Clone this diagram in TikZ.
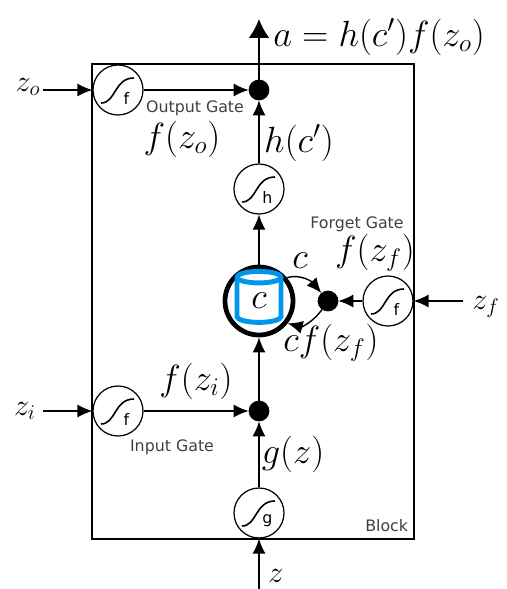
\documentclass[tikz,border=0pt]{standalone}
\usepackage{amsmath,amssymb}
\usepackage{fontspec}
\setsansfont{DejaVu Sans}
\usepackage{tikz}
\usetikzlibrary{shapes.geometric,arrows.meta,positioning,fit,backgrounds}
\definecolor{cellblue}{RGB}{0,150,235}

\begin{document}
\begin{tikzpicture}[
  on grid,
  font=\huge,
  gate/.style={draw, circle, inner sep=0pt, minimum size=1cm, fill=white, line width=0.7pt,
    path picture={\draw[line width=0.9pt, shift={(path picture bounding box.center)}]
      (-.34,-.26) .. controls (-.04,-.26) and (-.08,.24) .. (.32,.24);},
    label={[font=\sffamily\small, xshift=.17cm, yshift=-.16cm]center:#1}},
  dot/.style={draw, circle, fill=black, inner sep=0pt, minimum size=.4cm},
  gatename/.style={font=\sffamily\small, text=black!75},
  inputname/.style={font=\LARGE},
  flow/.style={draw, line width=0.8pt, -{Latex[length=.3cm,width=.26cm]}},
  >=Latex
]
\useasboundingbox (0,0) rectangle (10.12,-11.78);

% Main column
\node[circle, draw, line width=2.7pt, minimum size=1.36cm, inner sep=0pt] (memory) at (5.18,-6.02) {};
\node[draw=cellblue, cylinder, shape border rotate=90, aspect=0.75, line width=2.8pt,
      minimum width=.88cm, minimum height=1.02cm, inner sep=0pt] (cell) at (memory) {$c$};
\node[gate=h, above=2.24cm of memory] (hgate) {};
\node[dot, above=1.98cm of hgate] (outdot) {};
\node[dot, below=2.2cm of memory] (indot) {};
\node[gate=g, below=2.04cm of indot] (ggate) {};
\coordinate[above=1.42cm of outdot] (atip);
\coordinate[below=1.54cm of ggate] (zin);

% Gates
\node[gate=f, left=2.82cm of outdot] (fo) {};
\node[gate=f, left=2.82cm of indot] (fi) {};
\node[dot, right=1.38cm of memory] (fdot) {};
\node[gate=f, right=1.2cm of fdot] (ff) {};
\coordinate[left=1.5cm of fo] (zoin);
\coordinate[left=1.5cm of fi] (ziin);
\coordinate[right=1.5cm of ff] (zfin);

% Block
\begin{scope}[on background layer]
  \node[draw, line width=1.2pt, fit=(fo)(ff)(ggate), inner sep=0pt] (block) {};
\end{scope}

% Labels
\node[right=2.4cm of outdot, yshift=1.06cm] (alabel) {$a=h(c')f(z_o)$};
\node[inputname, left=1.8cm of fo, yshift=.06cm] (zolabel) {$z_o$};
\node[inputname, left=1.86cm of fi] (zilabel) {$z_i$};
\node[inputname, right=1.96cm of ff, yshift=-.12cm] (zflabel) {$z_f$};
\node[inputname, below=1.26cm of ggate, xshift=.34cm] (zlabel) {$z$};
\node[gatename, below=.36cm of fo, xshift=1.54cm] (outname) {Output Gate};
\node[below=.62cm of outname, xshift=-.26cm] (folabel) {$f(z_o)$};
\node[below=1.06cm of outdot, xshift=.8cm] (hlabel) {$h(c')$};
\node[gatename, above=1.54cm of fdot, xshift=.58cm] (forgetname) {Forget Gate};
\node[below=.58cm of forgetname, xshift=.36cm] (fflabel) {$f(z_f)$};
\node[left=.56cm of fdot, yshift=.8cm] (clabel) {$c$};
\node[below=.84cm of fdot, xshift=.06cm] (cflabel) {$cf(z_f)$};
\node[above=.6cm of indot, xshift=-1.26cm] (filabel) {$f(z_i)$};
\node[gatename, below=.72cm of fi, xshift=1.08cm] (inname) {Input Gate};
\node[below=.86cm of indot, xshift=.68cm] (glabel) {$g(z)$};
\node[gatename, above=.03cm of block.south east, xshift=-.56cm] (blockname) {Block};

% Edges
\draw[flow, line width=1.3pt, -{Latex[length=.38cm,width=.42cm]}] (outdot) -- (atip);
\draw[flow] (hgate) -- (outdot);
\draw[flow] (memory) -- (hgate);
\draw[flow] (indot) -- (memory);
\draw[flow] (ggate) -- (indot);
\draw[flow] (zin) -- (ggate);
\draw[flow] (fo) -- (outdot);
\draw[flow] (fi) -- (indot);
\draw[flow] (zoin) -- (fo);
\draw[flow] (ziin) -- (fi);
\draw[flow] (zfin) -- (ff);
\draw[flow] (ff) -- (fdot);
\draw[flow] (memory.40) to[out=15, in=130] (fdot);
\draw[flow] (fdot) to[out=-125, in=-15] (memory.-38);
\end{tikzpicture}
\end{document}
